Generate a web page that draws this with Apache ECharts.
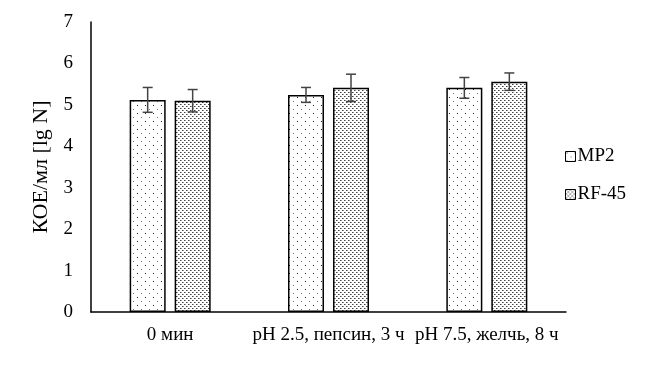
<!DOCTYPE html>
<html>
<head>
<meta charset="utf-8">
<script src="https://cdn.jsdelivr.net/npm/echarts@6/dist/echarts.min.js"></script>
<style>
  html, body { margin: 0; padding: 0; background: #fff; }
  #chart { width: 652px; height: 376px; }
</style>
</head>
<body>
<div id="chart"></div>
<script>
const categories = ['0 мин', 'pH 2.5, пепсин, 3 ч', 'pH 7.5, желчь, 8 ч']
const seriesNames = ['MP2', 'RF-45']
const mp2Values = [5.12, 5.24, 5.41]
const mp2Errors = [0.3, 0.18, 0.25]
const rfValues = [5.1, 5.41, 5.56]
const rfErrors = [0.27, 0.33, 0.21]

const FONT = '"Liberation Serif", "DejaVu Serif", serif'
const BAR_W = 36
const BAR_GAP = 9

// sparse dots
const makeSparse = () => {
  const c = document.createElement('canvas')
  c.width = 8
  c.height = 8
  const ctx = c.getContext('2d')
  ctx.fillStyle = '#fff'
  ctx.fillRect(0, 0, 8, 8)
  ctx.fillStyle = '#222'
  ctx.fillRect(1, 1, 1, 1)
  ctx.fillStyle = '#777'
  ctx.fillRect(5, 5, 1, 1)
  return c
}

// dense checker dots
const makeDense = () => {
  const c = document.createElement('canvas')
  c.width = 4
  c.height = 4
  const ctx = c.getContext('2d')
  ctx.fillStyle = '#fff'
  ctx.fillRect(0, 0, 4, 4)
  ctx.fillStyle = '#444'
  ctx.fillRect(0, 0, 1, 1)
  ctx.fillRect(2, 2, 1, 1)
  ctx.fillStyle = '#999'
  ctx.fillRect(1, 0, 1, 1)
  ctx.fillRect(3, 2, 1, 1)
  return c
}

const errorSeries = (values, errors, offset) => ({
  type: 'custom',
  z: 10,
  silent: true,
  data: values.map((v, i) => [i, v - errors[i], v + errors[i]]),
  renderItem: (params, api) => {
    const lo = api.coord([api.value(0), api.value(1)])
    const hi = api.coord([api.value(0), api.value(2)])
    const x = lo[0] + offset
    const style = { stroke: '#444', lineWidth: 1.5 }
    return {
      type: 'group',
      children: [
        { type: 'line', shape: { x1: x, y1: lo[1], x2: x, y2: hi[1] }, style },
        { type: 'line', shape: { x1: x - 5, y1: lo[1], x2: x + 5, y2: lo[1] }, style },
        { type: 'line', shape: { x1: x - 5, y1: hi[1], x2: x + 5, y2: hi[1] }, style }
      ]
    }
  }
})

const chart = echarts.init(document.getElementById('chart'))
const off = (BAR_W + BAR_GAP) / 2

chart.setOption({
  animation: false,
  grid: { left: 91, right: 86, top: 22, bottom: 64 },
  legend: {
    orient: 'vertical',
    left: 560,
    top: 142,
    icon: 'rect',
    itemWidth: 10,
    itemHeight: 10,
    itemGap: 19,
    data: seriesNames,
    itemStyle: { borderColor: '#000', borderWidth: 1 },
    textStyle: { fontFamily: FONT, fontSize: 19, color: '#000', padding: [0, 0, 0, -3] }
  },
  xAxis: {
    type: 'category',
    data: categories,
    axisLine: { lineStyle: { color: '#000', width: 1.5 } },
    axisTick: { show: false },
    axisLabel: { fontFamily: FONT, fontSize: 19, color: '#000', margin: 14, interval: 0 }
  },
  yAxis: {
    type: 'value',
    min: 0,
    max: 7,
    interval: 1,
    name: 'КОЕ/мл [lg N]',
    nameLocation: 'middle',
    nameGap: 35,
    nameTextStyle: { fontFamily: FONT, fontSize: 22, color: '#000' },
    axisLine: { show: true, lineStyle: { color: '#000', width: 1.5 } },
    axisTick: { show: false },
    splitLine: { show: false },
    axisLabel: { fontFamily: FONT, fontSize: 19, color: '#000', margin: 18 }
  },
  series: [
    {
      name: seriesNames[0],
      type: 'bar',
      barWidth: BAR_W,
      barGap: (BAR_GAP / BAR_W * 100) + '%',
      data: mp2Values,
      itemStyle: { color: { image: makeSparse(), repeat: 'repeat' }, borderColor: '#000', borderWidth: 1.5 }
    },
    {
      name: seriesNames[1],
      type: 'bar',
      barWidth: BAR_W,
      data: rfValues,
      itemStyle: { color: { image: makeDense(), repeat: 'repeat' }, borderColor: '#000', borderWidth: 1.5 }
    },
    errorSeries(mp2Values, mp2Errors, -off),
    errorSeries(rfValues, rfErrors, off)
  ]
})
</script>
</body>
</html>
